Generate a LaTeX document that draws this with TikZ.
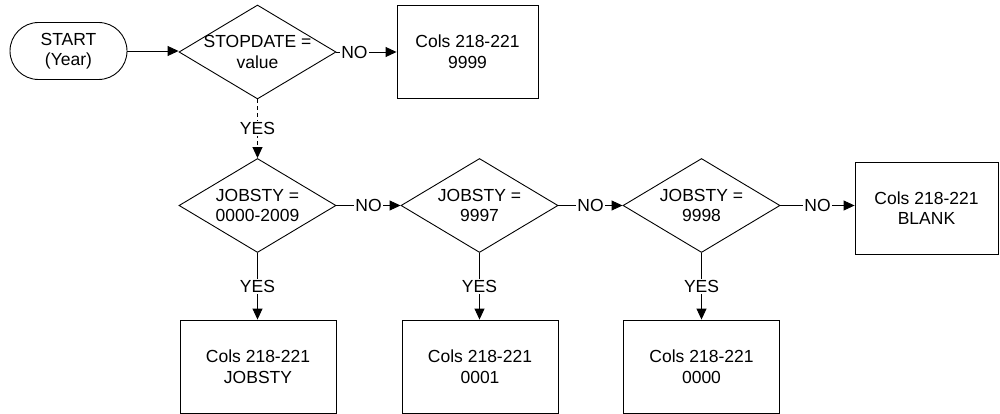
\documentclass[tikz,border=0pt]{standalone}
\usepackage{fontspec}
\setmainfont{Liberation Sans}
\usetikzlibrary{arrows.meta,shapes.geometric,shapes.misc}
\begin{document}
\begin{tikzpicture}[x=1pt,y=-1pt,
  every node/.style={font=\fontsize{17.5}{20.5}\selectfont},
  term/.style={draw, rounded rectangle, minimum width=117pt, minimum height=57pt, align=center, inner sep=0pt},
  dec/.style={draw, diamond, minimum width=157pt, minimum height=94pt, inner sep=0pt},
  txt/.style={align=center, inner sep=0pt},
  box/.style={draw, minimum width=156pt, minimum height=93pt, align=center, inner sep=0pt},
  lbl/.style={fill=white, inner sep=1.5pt},
  arr/.style={-{Triangle[length=11pt,width=10pt]}},
  line width=0.9pt]
\useasboundingbox (0,0) rectangle (1000,414);

\node[term] (s) at (68.5,51) {START\\(Year)};
\node[dec, label={[txt]center:STOPDATE =\\value}] (d0) at (257.5,52) {};
\node[box, minimum width=141pt] (b0) at (467.5,51.5) {Cols 218-221\\9999};

\node[dec, label={[txt]center:JOBSTY =\\0000-2009}] (d1) at (257.5,205.5) {};
\node[dec, label={[txt]center:JOBSTY =\\9997}] (d2) at (479.5,205.5) {};
\node[dec, label={[txt]center:JOBSTY =\\9998}] (d3) at (701.5,205.5) {};
\node[box, minimum width=143pt, minimum height=92pt] (bl) at (926.5,208) {Cols 218-221\\BLANK};

\node[box] (r1) at (258,366.5) {Cols 218-221\\JOBSTY};
\node[box] (r2) at (480,366.5) {Cols 218-221\\0001};
\node[box] (r3) at (701.5,366.5) {Cols 218-221\\0000};

\draw[arr] (s.east) -- (s.east -| d0.west);
\draw[arr] (d0.east) -- node[lbl, pos=0.3] {NO} (d0.east -| b0.west);
\draw[arr, dash pattern=on 4pt off 3pt] (d0.south) -- node[lbl] {YES} (d1.north);

\draw[arr] (d1.east) -- node[lbl] {NO} (d2.west);
\draw[arr] (d2.east) -- node[lbl] {NO} (d3.west);
\draw[arr] (d3.east) -- node[lbl] {NO} (d3.east -| bl.west);

\draw[arr] (d1.south) -- node[lbl] {YES} (d1.south |- r1.north);
\draw[arr] (d2.south) -- node[lbl] {YES} (d2.south |- r2.north);
\draw[arr] (d3.south) -- node[lbl] {YES} (d3.south |- r3.north);
\end{tikzpicture}
\end{document}
